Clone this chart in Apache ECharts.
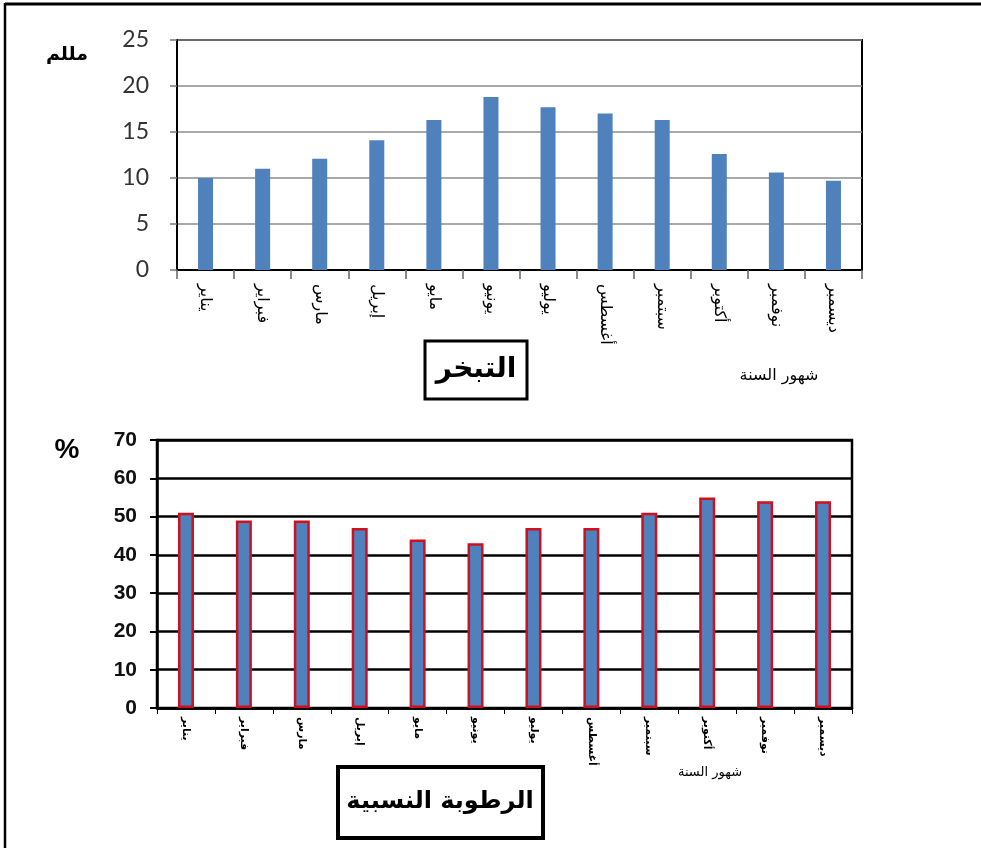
<!DOCTYPE html>
<html>
<head>
<meta charset="utf-8">
<script src="https://cdn.jsdelivr.net/npm/echarts@6/dist/echarts.min.js"></script>
<style>
html,body{margin:0;padding:0;background:#fff;}
#c{width:981px;height:848px;}
</style>
</head>
<body>
<div id="c"></div>
<script>
var months = ['يناير','فبراير','مارس','إبريل','مايو','يونيو','يوليو','أغسطس','سبتمبر','أكتوبر','نوفمبر','ديسمبر'];
var evaporation = [10, 11, 12.1, 14.1, 16.3, 18.8, 17.7, 17, 16.3, 12.6, 10.6, 9.7];
var humidity = [51, 49, 49, 47, 44, 43, 47, 47, 51, 55, 54, 54];
var evapTicks = {min: 0, max: 25, interval: 5};
var humTicks = {min: 0, max: 70, interval: 10};
var evapTitle = 'التبخر';
var humTitle = 'الرطوبة النسبية';
var xName = 'شهور السنة';
var evapUnit = 'مللم';
var humUnit = '%';

var arabic = "'DejaVu Sans', sans-serif";
var chart = echarts.init(document.getElementById('c'), null, {renderer: 'canvas'});
chart.setOption({
  animation: false,
  backgroundColor: '#fff',
  grid: [
    {left: 177, top: 40, width: 685, height: 230, show: true, borderColor: '#000', borderWidth: 2, backgroundColor: 'transparent'},
    {left: 157, top: 440, width: 695, height: 268, show: true, borderColor: '#000', borderWidth: 2.5, backgroundColor: 'transparent'}
  ],
  xAxis: [
    {type: 'category', gridIndex: 0, data: months,
     axisLine: {lineStyle: {color: '#000', width: 2}},
     axisTick: {show: true, length: 9, lineStyle: {color: '#666', width: 1.5}},
     axisLabel: {rotate: -90, margin: 14, fontSize: 16, color: '#000', fontFamily: arabic, interval: 0}},
    {type: 'category', gridIndex: 1, data: months,
     axisLine: {lineStyle: {color: '#000', width: 2.5}},
     axisTick: {show: true, length: 6, lineStyle: {color: '#000', width: 1}},
     axisLabel: {rotate: -90, margin: 9, fontSize: 11, fontWeight: 'bold', color: '#000', fontFamily: arabic, interval: 0}}
  ],
  yAxis: [
    {type: 'value', gridIndex: 0, min: evapTicks.min, max: evapTicks.max, interval: evapTicks.interval,
     axisLine: {show: true, lineStyle: {color: '#000', width: 2}},
     axisTick: {show: true, length: 7, lineStyle: {color: '#777', width: 1.5}},
     splitLine: {lineStyle: {color: '#8c8c8c', width: 1.5}},
     axisLabel: {margin: 28, fontSize: 23, color: '#333', fontFamily: 'Lato, sans-serif'}},
    {type: 'value', gridIndex: 1, min: humTicks.min, max: humTicks.max, interval: humTicks.interval,
     axisLine: {show: true, lineStyle: {color: '#000', width: 2.5}},
     axisTick: {show: true, length: 7, lineStyle: {color: '#000', width: 2}},
     splitLine: {lineStyle: {color: '#000', width: 2.5}},
     axisLabel: {margin: 20, fontSize: 21, fontWeight: 'bold', color: '#111', fontFamily: "'Liberation Sans', Arial, sans-serif"}}
  ],
  series: [
    {type: 'bar', xAxisIndex: 0, yAxisIndex: 0, data: evaporation, barWidth: 15,
     itemStyle: {color: '#4F81BD'}},
    {type: 'bar', xAxisIndex: 1, yAxisIndex: 1, data: humidity, barWidth: 16,
     itemStyle: {color: '#4F81BD', borderColor: '#D0101E', borderWidth: 2.5}}
  ],
  graphic: [
    {type: 'line', shape: {x1: 5, y1: 4, x2: 981, y2: 4}, style: {stroke: '#000', lineWidth: 3}},
    {type: 'line', shape: {x1: 5, y1: 3, x2: 5, y2: 848}, style: {stroke: '#000', lineWidth: 2.5}},
    {type: 'text', x: 67, y: 55, style: {text: evapUnit, align: 'center', verticalAlign: 'middle', fontSize: 19, fontWeight: 'bold', fill: '#000', fontFamily: arabic}},
    {type: 'text', x: 67, y: 450, style: {text: humUnit, align: 'center', verticalAlign: 'middle', fontSize: 28, fontWeight: 'bold', fill: '#000', fontFamily: "'Liberation Sans', Arial, sans-serif"}},
    {type: 'rect', shape: {x: 425, y: 341, width: 102, height: 58}, style: {fill: '#fff', stroke: '#000', lineWidth: 3}, z: 10},
    {type: 'text', x: 476, y: 370, z: 11, style: {text: evapTitle, align: 'center', verticalAlign: 'middle', fontSize: 28, fontWeight: 'bold', fill: '#000', fontFamily: arabic}},
    {type: 'text', x: 779, y: 376, z: 11, style: {text: xName, align: 'center', verticalAlign: 'middle', fontSize: 16, fill: '#000', fontFamily: arabic}},
    {type: 'rect', shape: {x: 338, y: 767, width: 205, height: 71}, style: {fill: '#fff', stroke: '#000', lineWidth: 4}, z: 10},
    {type: 'text', x: 440, y: 802, z: 11, style: {text: humTitle, align: 'center', verticalAlign: 'middle', fontSize: 24, fontWeight: 'bold', fill: '#000', fontFamily: arabic}},
    {type: 'text', x: 710, y: 773, z: 11, style: {text: xName, align: 'center', verticalAlign: 'middle', fontSize: 13, fill: '#000', fontFamily: arabic}}
  ]
});
</script>
</body>
</html>
